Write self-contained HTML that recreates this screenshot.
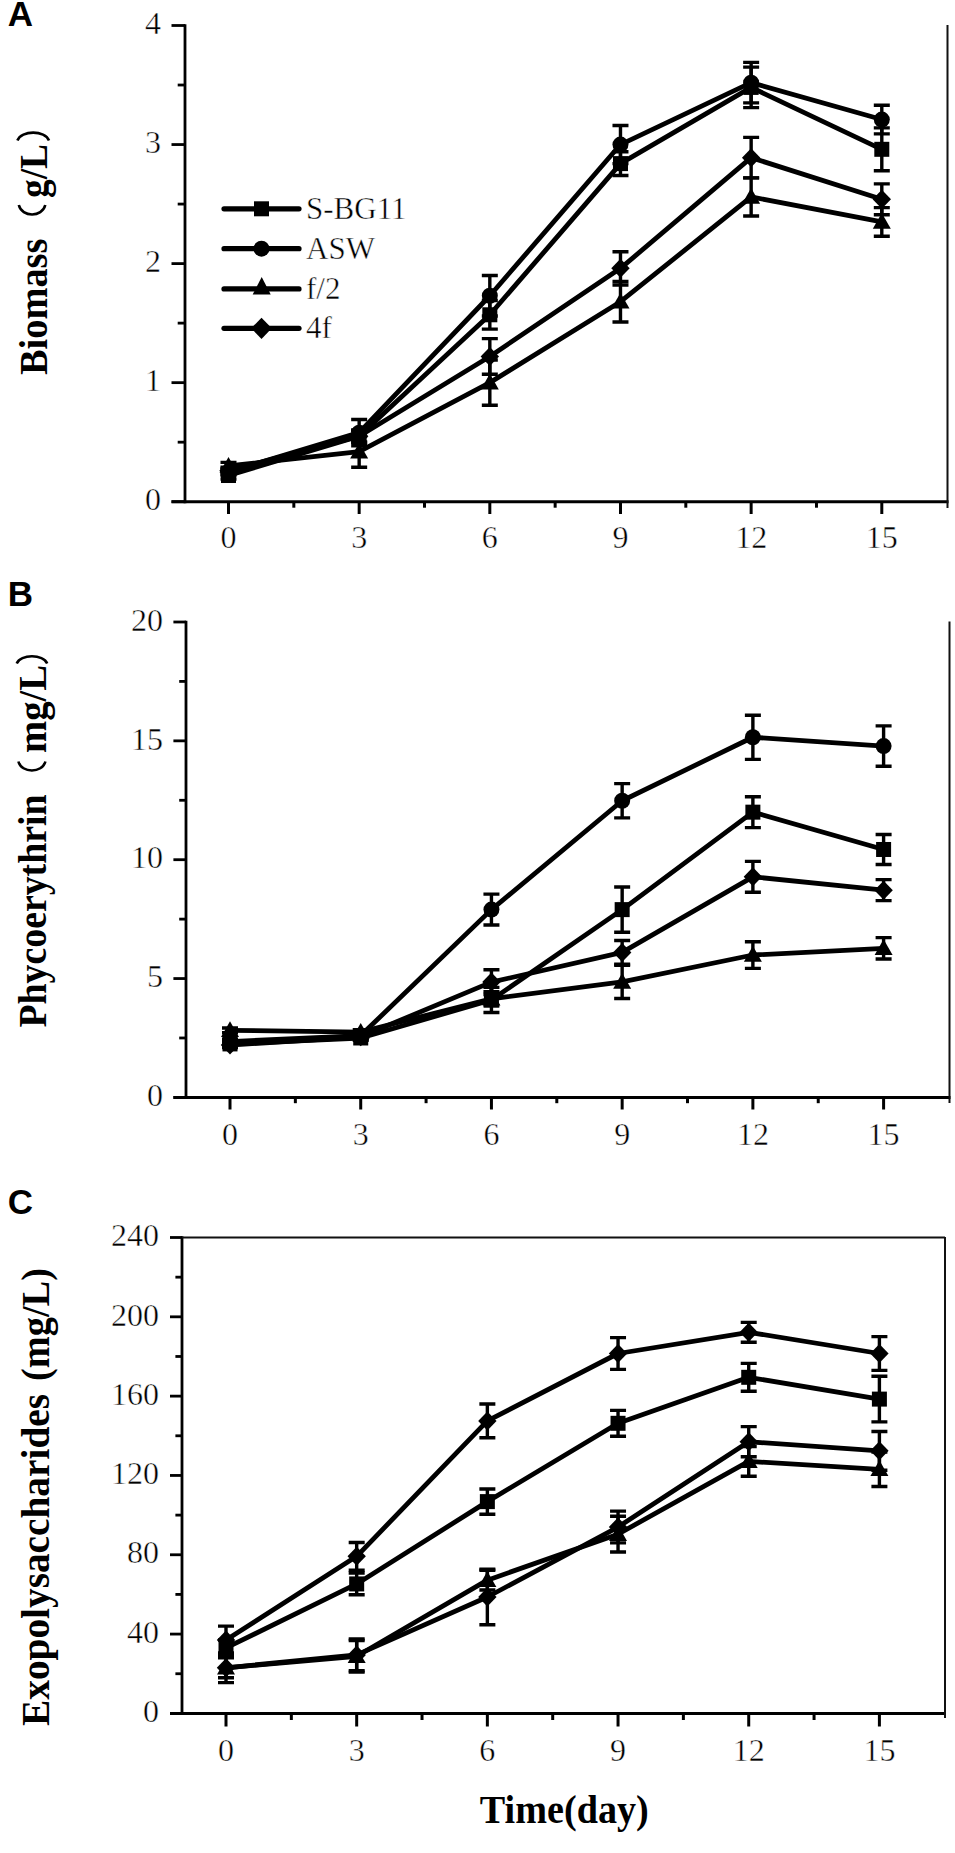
<!DOCTYPE html>
<html><head><meta charset="utf-8"><style>
html,body{margin:0;padding:0;background:#fff;}
svg{display:block;}
</style></head><body>
<svg width="955" height="1853" viewBox="0 0 955 1853">
<rect width="955" height="1853" fill="#fff"/>
<line x1="185" y1="24.3" x2="185" y2="503.2" stroke="#000" stroke-width="2.8"/>
<line x1="171.5" y1="501.7" x2="948.5" y2="501.7" stroke="#000" stroke-width="3"/>
<line x1="947.5" y1="25.0" x2="947.5" y2="508" stroke="#111" stroke-width="2"/>
<line x1="171.5" y1="501.70" x2="185" y2="501.70" stroke="#000" stroke-width="2.8"/>
<text x="161" y="510.40" text-anchor="end" style="font-family:'Liberation Serif',serif;font-size:32px;stroke:#fff;stroke-width:0.45px">0</text>
<line x1="177.7" y1="442.18" x2="185" y2="442.18" stroke="#000" stroke-width="2.8"/>
<line x1="171.5" y1="382.65" x2="185" y2="382.65" stroke="#000" stroke-width="2.8"/>
<text x="161" y="391.35" text-anchor="end" style="font-family:'Liberation Serif',serif;font-size:32px;stroke:#fff;stroke-width:0.45px">1</text>
<line x1="177.7" y1="323.12" x2="185" y2="323.12" stroke="#000" stroke-width="2.8"/>
<line x1="171.5" y1="263.60" x2="185" y2="263.60" stroke="#000" stroke-width="2.8"/>
<text x="161" y="272.30" text-anchor="end" style="font-family:'Liberation Serif',serif;font-size:32px;stroke:#fff;stroke-width:0.45px">2</text>
<line x1="177.7" y1="204.07" x2="185" y2="204.07" stroke="#000" stroke-width="2.8"/>
<line x1="171.5" y1="144.55" x2="185" y2="144.55" stroke="#000" stroke-width="2.8"/>
<text x="161" y="153.25" text-anchor="end" style="font-family:'Liberation Serif',serif;font-size:32px;stroke:#fff;stroke-width:0.45px">3</text>
<line x1="177.7" y1="85.02" x2="185" y2="85.02" stroke="#000" stroke-width="2.8"/>
<line x1="171.5" y1="25.50" x2="185" y2="25.50" stroke="#000" stroke-width="2.8"/>
<text x="161" y="34.20" text-anchor="end" style="font-family:'Liberation Serif',serif;font-size:32px;stroke:#fff;stroke-width:0.45px">4</text>
<line x1="228.50" y1="501.7" x2="228.50" y2="514" stroke="#000" stroke-width="3"/>
<text x="228.50" y="548" text-anchor="middle" style="font-family:'Liberation Serif',serif;font-size:32px;stroke:#fff;stroke-width:0.45px">0</text>
<line x1="293.83" y1="501.7" x2="293.83" y2="507.7" stroke="#000" stroke-width="3"/>
<line x1="359.16" y1="501.7" x2="359.16" y2="514" stroke="#000" stroke-width="3"/>
<text x="359.16" y="548" text-anchor="middle" style="font-family:'Liberation Serif',serif;font-size:32px;stroke:#fff;stroke-width:0.45px">3</text>
<line x1="424.49" y1="501.7" x2="424.49" y2="507.7" stroke="#000" stroke-width="3"/>
<line x1="489.82" y1="501.7" x2="489.82" y2="514" stroke="#000" stroke-width="3"/>
<text x="489.82" y="548" text-anchor="middle" style="font-family:'Liberation Serif',serif;font-size:32px;stroke:#fff;stroke-width:0.45px">6</text>
<line x1="555.15" y1="501.7" x2="555.15" y2="507.7" stroke="#000" stroke-width="3"/>
<line x1="620.48" y1="501.7" x2="620.48" y2="514" stroke="#000" stroke-width="3"/>
<text x="620.48" y="548" text-anchor="middle" style="font-family:'Liberation Serif',serif;font-size:32px;stroke:#fff;stroke-width:0.45px">9</text>
<line x1="685.81" y1="501.7" x2="685.81" y2="507.7" stroke="#000" stroke-width="3"/>
<line x1="751.14" y1="501.7" x2="751.14" y2="514" stroke="#000" stroke-width="3"/>
<text x="751.14" y="548" text-anchor="middle" style="font-family:'Liberation Serif',serif;font-size:32px;stroke:#fff;stroke-width:0.45px">12</text>
<line x1="816.47" y1="501.7" x2="816.47" y2="507.7" stroke="#000" stroke-width="3"/>
<line x1="881.80" y1="501.7" x2="881.80" y2="514" stroke="#000" stroke-width="3"/>
<text x="881.80" y="548" text-anchor="middle" style="font-family:'Liberation Serif',serif;font-size:32px;stroke:#fff;stroke-width:0.45px">15</text>
<path d="M228.50,475.51 L359.16,436.22 L489.82,314.79 L620.48,163.60 L751.14,87.41 L881.80,149.31" fill="none" stroke="#000" stroke-width="4.8" stroke-linejoin="round" stroke-linecap="round"/>
<path d="M228.50,471.94 L359.16,432.65 L489.82,295.74 L620.48,144.55 L751.14,82.64 L881.80,119.55" fill="none" stroke="#000" stroke-width="4.8" stroke-linejoin="round" stroke-linecap="round"/>
<path d="M228.50,465.99 L359.16,451.70 L489.82,382.65 L620.48,301.70 L751.14,196.93 L881.80,221.93" fill="none" stroke="#000" stroke-width="4.8" stroke-linejoin="round" stroke-linecap="round"/>
<path d="M228.50,470.75 L359.16,436.22 L489.82,356.46 L620.48,268.36 L751.14,157.65 L881.80,199.31" fill="none" stroke="#000" stroke-width="4.8" stroke-linejoin="round" stroke-linecap="round"/>
<path d="M228.50,471.94V479.08M220.50,471.94H236.50M220.50,479.08H236.50" stroke="#000" stroke-width="3.4" fill="none"/>
<rect x="221.00" y="468.01" width="15.00" height="15.00" fill="#000"/>
<path d="M359.16,430.27V442.18M351.16,430.27H367.16M351.16,442.18H367.16" stroke="#000" stroke-width="3.4" fill="none"/>
<rect x="351.66" y="428.72" width="15.00" height="15.00" fill="#000"/>
<path d="M489.82,300.51V329.08M481.82,300.51H497.82M481.82,329.08H497.82" stroke="#000" stroke-width="3.4" fill="none"/>
<rect x="482.32" y="307.29" width="15.00" height="15.00" fill="#000"/>
<path d="M620.48,151.69V175.50M612.48,151.69H628.48M612.48,175.50H628.48" stroke="#000" stroke-width="3.4" fill="none"/>
<rect x="612.98" y="156.10" width="15.00" height="15.00" fill="#000"/>
<path d="M751.14,67.17V107.64M743.14,67.17H759.14M743.14,107.64H759.14" stroke="#000" stroke-width="3.4" fill="none"/>
<rect x="743.64" y="79.91" width="15.00" height="15.00" fill="#000"/>
<path d="M881.80,127.88V170.74M873.80,127.88H889.80M873.80,170.74H889.80" stroke="#000" stroke-width="3.4" fill="none"/>
<rect x="874.30" y="141.81" width="15.00" height="15.00" fill="#000"/>
<path d="M228.50,468.37V475.51M220.50,468.37H236.50M220.50,475.51H236.50" stroke="#000" stroke-width="3.4" fill="none"/>
<circle cx="228.50" cy="471.94" r="8.00" fill="#000"/>
<path d="M359.16,419.56V445.75M351.16,419.56H367.16M351.16,445.75H367.16" stroke="#000" stroke-width="3.4" fill="none"/>
<circle cx="359.16" cy="432.65" r="8.00" fill="#000"/>
<path d="M489.82,275.50V315.98M481.82,275.50H497.82M481.82,315.98H497.82" stroke="#000" stroke-width="3.4" fill="none"/>
<circle cx="489.82" cy="295.74" r="8.00" fill="#000"/>
<path d="M620.48,125.50V163.60M612.48,125.50H628.48M612.48,163.60H628.48" stroke="#000" stroke-width="3.4" fill="none"/>
<circle cx="620.48" cy="144.55" r="8.00" fill="#000"/>
<path d="M751.14,62.41V102.88M743.14,62.41H759.14M743.14,102.88H759.14" stroke="#000" stroke-width="3.4" fill="none"/>
<circle cx="751.14" cy="82.64" r="8.00" fill="#000"/>
<path d="M881.80,105.26V133.84M873.80,105.26H889.80M873.80,133.84H889.80" stroke="#000" stroke-width="3.4" fill="none"/>
<circle cx="881.80" cy="119.55" r="8.00" fill="#000"/>
<path d="M228.50,462.41V469.56M220.50,462.41H236.50M220.50,469.56H236.50" stroke="#000" stroke-width="3.4" fill="none"/>
<path d="M228.50,456.99L237.50,472.74L219.50,472.74Z" fill="#000"/>
<path d="M359.16,436.22V467.18M351.16,436.22H367.16M351.16,467.18H367.16" stroke="#000" stroke-width="3.4" fill="none"/>
<path d="M359.16,442.70L368.16,458.45L350.16,458.45Z" fill="#000"/>
<path d="M489.82,360.03V405.27M481.82,360.03H497.82M481.82,405.27H497.82" stroke="#000" stroke-width="3.4" fill="none"/>
<path d="M489.82,373.65L498.82,389.40L480.82,389.40Z" fill="#000"/>
<path d="M620.48,281.46V321.93M612.48,281.46H628.48M612.48,321.93H628.48" stroke="#000" stroke-width="3.4" fill="none"/>
<path d="M620.48,292.70L629.48,308.45L611.48,308.45Z" fill="#000"/>
<path d="M751.14,177.88V215.98M743.14,177.88H759.14M743.14,215.98H759.14" stroke="#000" stroke-width="3.4" fill="none"/>
<path d="M751.14,187.93L760.14,203.68L742.14,203.68Z" fill="#000"/>
<path d="M881.80,207.65V236.22M873.80,207.65H889.80M873.80,236.22H889.80" stroke="#000" stroke-width="3.4" fill="none"/>
<path d="M881.80,212.93L890.80,228.68L872.80,228.68Z" fill="#000"/>
<path d="M228.50,467.18V474.32M220.50,467.18H236.50M220.50,474.32H236.50" stroke="#000" stroke-width="3.4" fill="none"/>
<path d="M228.50,461.25L237.70,470.75L228.50,480.25L219.30,470.75Z" fill="#000"/>
<path d="M359.16,430.27V442.18M351.16,430.27H367.16M351.16,442.18H367.16" stroke="#000" stroke-width="3.4" fill="none"/>
<path d="M359.16,426.72L368.36,436.22L359.16,445.72L349.96,436.22Z" fill="#000"/>
<path d="M489.82,338.60V374.32M481.82,338.60H497.82M481.82,374.32H497.82" stroke="#000" stroke-width="3.4" fill="none"/>
<path d="M489.82,346.96L499.02,356.46L489.82,365.96L480.62,356.46Z" fill="#000"/>
<path d="M620.48,251.69V285.03M612.48,251.69H628.48M612.48,285.03H628.48" stroke="#000" stroke-width="3.4" fill="none"/>
<path d="M620.48,258.86L629.68,268.36L620.48,277.86L611.28,268.36Z" fill="#000"/>
<path d="M751.14,137.41V177.88M743.14,137.41H759.14M743.14,177.88H759.14" stroke="#000" stroke-width="3.4" fill="none"/>
<path d="M751.14,148.15L760.34,157.65L751.14,167.15L741.94,157.65Z" fill="#000"/>
<path d="M881.80,183.84V214.79M873.80,183.84H889.80M873.80,214.79H889.80" stroke="#000" stroke-width="3.4" fill="none"/>
<path d="M881.80,189.81L891.00,199.31L881.80,208.81L872.60,199.31Z" fill="#000"/>
<line x1="186" y1="620.8" x2="186" y2="1098.9" stroke="#000" stroke-width="2.8"/>
<line x1="173.4" y1="1097.4" x2="950.5" y2="1097.4" stroke="#000" stroke-width="3"/>
<line x1="949.5" y1="621.5" x2="949.5" y2="1103" stroke="#111" stroke-width="2"/>
<line x1="173.4" y1="1097.40" x2="186" y2="1097.40" stroke="#000" stroke-width="2.8"/>
<text x="163" y="1106.10" text-anchor="end" style="font-family:'Liberation Serif',serif;font-size:32px;stroke:#fff;stroke-width:0.45px">0</text>
<line x1="179.2" y1="1037.98" x2="186" y2="1037.98" stroke="#000" stroke-width="2.8"/>
<line x1="173.4" y1="978.55" x2="186" y2="978.55" stroke="#000" stroke-width="2.8"/>
<text x="163" y="987.25" text-anchor="end" style="font-family:'Liberation Serif',serif;font-size:32px;stroke:#fff;stroke-width:0.45px">5</text>
<line x1="179.2" y1="919.12" x2="186" y2="919.12" stroke="#000" stroke-width="2.8"/>
<line x1="173.4" y1="859.70" x2="186" y2="859.70" stroke="#000" stroke-width="2.8"/>
<text x="163" y="868.40" text-anchor="end" style="font-family:'Liberation Serif',serif;font-size:32px;stroke:#fff;stroke-width:0.45px">10</text>
<line x1="179.2" y1="800.28" x2="186" y2="800.28" stroke="#000" stroke-width="2.8"/>
<line x1="173.4" y1="740.85" x2="186" y2="740.85" stroke="#000" stroke-width="2.8"/>
<text x="163" y="749.55" text-anchor="end" style="font-family:'Liberation Serif',serif;font-size:32px;stroke:#fff;stroke-width:0.45px">15</text>
<line x1="179.2" y1="681.42" x2="186" y2="681.42" stroke="#000" stroke-width="2.8"/>
<line x1="173.4" y1="622.00" x2="186" y2="622.00" stroke="#000" stroke-width="2.8"/>
<text x="163" y="630.70" text-anchor="end" style="font-family:'Liberation Serif',serif;font-size:32px;stroke:#fff;stroke-width:0.45px">20</text>
<line x1="230.00" y1="1097.4" x2="230.00" y2="1109.5" stroke="#000" stroke-width="3"/>
<text x="230.00" y="1144.5" text-anchor="middle" style="font-family:'Liberation Serif',serif;font-size:32px;stroke:#fff;stroke-width:0.45px">0</text>
<line x1="295.36" y1="1097.4" x2="295.36" y2="1103.2" stroke="#000" stroke-width="3"/>
<line x1="360.72" y1="1097.4" x2="360.72" y2="1109.5" stroke="#000" stroke-width="3"/>
<text x="360.72" y="1144.5" text-anchor="middle" style="font-family:'Liberation Serif',serif;font-size:32px;stroke:#fff;stroke-width:0.45px">3</text>
<line x1="426.08" y1="1097.4" x2="426.08" y2="1103.2" stroke="#000" stroke-width="3"/>
<line x1="491.44" y1="1097.4" x2="491.44" y2="1109.5" stroke="#000" stroke-width="3"/>
<text x="491.44" y="1144.5" text-anchor="middle" style="font-family:'Liberation Serif',serif;font-size:32px;stroke:#fff;stroke-width:0.45px">6</text>
<line x1="556.80" y1="1097.4" x2="556.80" y2="1103.2" stroke="#000" stroke-width="3"/>
<line x1="622.16" y1="1097.4" x2="622.16" y2="1109.5" stroke="#000" stroke-width="3"/>
<text x="622.16" y="1144.5" text-anchor="middle" style="font-family:'Liberation Serif',serif;font-size:32px;stroke:#fff;stroke-width:0.45px">9</text>
<line x1="687.52" y1="1097.4" x2="687.52" y2="1103.2" stroke="#000" stroke-width="3"/>
<line x1="752.88" y1="1097.4" x2="752.88" y2="1109.5" stroke="#000" stroke-width="3"/>
<text x="752.88" y="1144.5" text-anchor="middle" style="font-family:'Liberation Serif',serif;font-size:32px;stroke:#fff;stroke-width:0.45px">12</text>
<line x1="818.24" y1="1097.4" x2="818.24" y2="1103.2" stroke="#000" stroke-width="3"/>
<line x1="883.60" y1="1097.4" x2="883.60" y2="1109.5" stroke="#000" stroke-width="3"/>
<text x="883.60" y="1144.5" text-anchor="middle" style="font-family:'Liberation Serif',serif;font-size:32px;stroke:#fff;stroke-width:0.45px">15</text>
<path d="M230.00,1043.92 L360.72,1037.98 L491.44,999.94 L622.16,909.62 L752.88,812.16 L883.60,849.48" fill="none" stroke="#000" stroke-width="4.8" stroke-linejoin="round" stroke-linecap="round"/>
<path d="M230.00,1041.54 L360.72,1035.60 L491.44,909.62 L622.16,800.75 L752.88,737.28 L883.60,746.08" fill="none" stroke="#000" stroke-width="4.8" stroke-linejoin="round" stroke-linecap="round"/>
<path d="M230.00,1030.37 L360.72,1032.03 L491.44,998.75 L622.16,981.88 L752.88,955.02 L883.60,948.36" fill="none" stroke="#000" stroke-width="4.8" stroke-linejoin="round" stroke-linecap="round"/>
<path d="M230.00,1045.11 L360.72,1036.79 L491.44,982.12 L622.16,952.40 L752.88,876.81 L883.60,890.13" fill="none" stroke="#000" stroke-width="4.8" stroke-linejoin="round" stroke-linecap="round"/>
<path d="M230.00,1041.54V1046.29M222.00,1041.54H238.00M222.00,1046.29H238.00" stroke="#000" stroke-width="3.4" fill="none"/>
<rect x="222.50" y="1036.42" width="15.00" height="15.00" fill="#000"/>
<path d="M360.72,1035.60V1040.35M352.72,1035.60H368.72M352.72,1040.35H368.72" stroke="#000" stroke-width="3.4" fill="none"/>
<rect x="353.22" y="1030.48" width="15.00" height="15.00" fill="#000"/>
<path d="M491.44,987.34V1012.54M483.44,987.34H499.44M483.44,1012.54H499.44" stroke="#000" stroke-width="3.4" fill="none"/>
<rect x="483.94" y="992.44" width="15.00" height="15.00" fill="#000"/>
<path d="M622.16,887.04V932.20M614.16,887.04H630.16M614.16,932.20H630.16" stroke="#000" stroke-width="3.4" fill="none"/>
<rect x="614.66" y="902.12" width="15.00" height="15.00" fill="#000"/>
<path d="M752.88,796.71V827.61M744.88,796.71H760.88M744.88,827.61H760.88" stroke="#000" stroke-width="3.4" fill="none"/>
<rect x="745.38" y="804.66" width="15.00" height="15.00" fill="#000"/>
<path d="M883.60,834.50V864.45M875.60,834.50H891.60M875.60,864.45H891.60" stroke="#000" stroke-width="3.4" fill="none"/>
<rect x="876.10" y="841.98" width="15.00" height="15.00" fill="#000"/>
<path d="M230.00,1039.16V1043.92M222.00,1039.16H238.00M222.00,1043.92H238.00" stroke="#000" stroke-width="3.4" fill="none"/>
<circle cx="230.00" cy="1041.54" r="8.00" fill="#000"/>
<path d="M360.72,1033.22V1037.98M352.72,1033.22H368.72M352.72,1037.98H368.72" stroke="#000" stroke-width="3.4" fill="none"/>
<circle cx="360.72" cy="1035.60" r="8.00" fill="#000"/>
<path d="M491.44,894.17V925.07M483.44,894.17H499.44M483.44,925.07H499.44" stroke="#000" stroke-width="3.4" fill="none"/>
<circle cx="491.44" cy="909.62" r="8.00" fill="#000"/>
<path d="M622.16,783.64V817.86M614.16,783.64H630.16M614.16,817.86H630.16" stroke="#000" stroke-width="3.4" fill="none"/>
<circle cx="622.16" cy="800.75" r="8.00" fill="#000"/>
<path d="M752.88,715.18V759.39M744.88,715.18H760.88M744.88,759.39H760.88" stroke="#000" stroke-width="3.4" fill="none"/>
<circle cx="752.88" cy="737.28" r="8.00" fill="#000"/>
<path d="M883.60,725.87V766.28M875.60,725.87H891.60M875.60,766.28H891.60" stroke="#000" stroke-width="3.4" fill="none"/>
<circle cx="883.60" cy="746.08" r="8.00" fill="#000"/>
<path d="M230.00,1027.99V1032.75M222.00,1027.99H238.00M222.00,1032.75H238.00" stroke="#000" stroke-width="3.4" fill="none"/>
<path d="M230.00,1021.37L239.00,1037.12L221.00,1037.12Z" fill="#000"/>
<path d="M360.72,1029.66V1034.41M352.72,1029.66H368.72M352.72,1034.41H368.72" stroke="#000" stroke-width="3.4" fill="none"/>
<path d="M360.72,1023.03L369.72,1038.78L351.72,1038.78Z" fill="#000"/>
<path d="M491.44,991.62V1005.89M483.44,991.62H499.44M483.44,1005.89H499.44" stroke="#000" stroke-width="3.4" fill="none"/>
<path d="M491.44,989.75L500.44,1005.50L482.44,1005.50Z" fill="#000"/>
<path d="M622.16,965.24V998.52M614.16,965.24H630.16M614.16,998.52H630.16" stroke="#000" stroke-width="3.4" fill="none"/>
<path d="M622.16,972.88L631.16,988.63L613.16,988.63Z" fill="#000"/>
<path d="M752.88,941.71V968.33M744.88,941.71H760.88M744.88,968.33H760.88" stroke="#000" stroke-width="3.4" fill="none"/>
<path d="M752.88,946.02L761.88,961.77L743.88,961.77Z" fill="#000"/>
<path d="M883.60,937.67V959.06M875.60,937.67H891.60M875.60,959.06H891.60" stroke="#000" stroke-width="3.4" fill="none"/>
<path d="M883.60,939.36L892.60,955.11L874.60,955.11Z" fill="#000"/>
<path d="M230.00,1042.73V1047.48M222.00,1042.73H238.00M222.00,1047.48H238.00" stroke="#000" stroke-width="3.4" fill="none"/>
<path d="M230.00,1035.61L239.20,1045.11L230.00,1054.61L220.80,1045.11Z" fill="#000"/>
<path d="M360.72,1034.41V1039.16M352.72,1034.41H368.72M352.72,1039.16H368.72" stroke="#000" stroke-width="3.4" fill="none"/>
<path d="M360.72,1027.29L369.92,1036.79L360.72,1046.29L351.52,1036.79Z" fill="#000"/>
<path d="M491.44,969.76V994.48M483.44,969.76H499.44M483.44,994.48H499.44" stroke="#000" stroke-width="3.4" fill="none"/>
<path d="M491.44,972.62L500.64,982.12L491.44,991.62L482.24,982.12Z" fill="#000"/>
<path d="M622.16,940.52V964.29M614.16,940.52H630.16M614.16,964.29H630.16" stroke="#000" stroke-width="3.4" fill="none"/>
<path d="M622.16,942.90L631.36,952.40L622.16,961.90L612.96,952.40Z" fill="#000"/>
<path d="M752.88,861.36V892.26M744.88,861.36H760.88M744.88,892.26H760.88" stroke="#000" stroke-width="3.4" fill="none"/>
<path d="M752.88,867.31L762.08,876.81L752.88,886.31L743.68,876.81Z" fill="#000"/>
<path d="M883.60,879.67V900.58M875.60,879.67H891.60M875.60,900.58H891.60" stroke="#000" stroke-width="3.4" fill="none"/>
<path d="M883.60,880.63L892.80,890.13L883.60,899.63L874.40,890.13Z" fill="#000"/>
<line x1="182" y1="1236.3" x2="182" y2="1714.9" stroke="#000" stroke-width="2.8"/>
<line x1="170" y1="1713.4" x2="946" y2="1713.4" stroke="#000" stroke-width="3"/>
<line x1="945" y1="1237.0" x2="945" y2="1718" stroke="#111" stroke-width="2"/>
<line x1="182" y1="1237.5" x2="945" y2="1237.5" stroke="#111" stroke-width="2.2"/>
<line x1="170" y1="1713.40" x2="182" y2="1713.40" stroke="#000" stroke-width="2.8"/>
<text x="159" y="1722.10" text-anchor="end" style="font-family:'Liberation Serif',serif;font-size:32px;stroke:#fff;stroke-width:0.45px">0</text>
<line x1="175.4" y1="1673.74" x2="182" y2="1673.74" stroke="#000" stroke-width="2.8"/>
<line x1="170" y1="1634.08" x2="182" y2="1634.08" stroke="#000" stroke-width="2.8"/>
<text x="159" y="1642.78" text-anchor="end" style="font-family:'Liberation Serif',serif;font-size:32px;stroke:#fff;stroke-width:0.45px">40</text>
<line x1="175.4" y1="1594.42" x2="182" y2="1594.42" stroke="#000" stroke-width="2.8"/>
<line x1="170" y1="1554.77" x2="182" y2="1554.77" stroke="#000" stroke-width="2.8"/>
<text x="159" y="1563.47" text-anchor="end" style="font-family:'Liberation Serif',serif;font-size:32px;stroke:#fff;stroke-width:0.45px">80</text>
<line x1="175.4" y1="1515.11" x2="182" y2="1515.11" stroke="#000" stroke-width="2.8"/>
<line x1="170" y1="1475.45" x2="182" y2="1475.45" stroke="#000" stroke-width="2.8"/>
<text x="159" y="1484.15" text-anchor="end" style="font-family:'Liberation Serif',serif;font-size:32px;stroke:#fff;stroke-width:0.45px">120</text>
<line x1="175.4" y1="1435.79" x2="182" y2="1435.79" stroke="#000" stroke-width="2.8"/>
<line x1="170" y1="1396.13" x2="182" y2="1396.13" stroke="#000" stroke-width="2.8"/>
<text x="159" y="1404.83" text-anchor="end" style="font-family:'Liberation Serif',serif;font-size:32px;stroke:#fff;stroke-width:0.45px">160</text>
<line x1="175.4" y1="1356.47" x2="182" y2="1356.47" stroke="#000" stroke-width="2.8"/>
<line x1="170" y1="1316.82" x2="182" y2="1316.82" stroke="#000" stroke-width="2.8"/>
<text x="159" y="1325.52" text-anchor="end" style="font-family:'Liberation Serif',serif;font-size:32px;stroke:#fff;stroke-width:0.45px">200</text>
<line x1="175.4" y1="1277.16" x2="182" y2="1277.16" stroke="#000" stroke-width="2.8"/>
<line x1="170" y1="1237.50" x2="182" y2="1237.50" stroke="#000" stroke-width="2.8"/>
<text x="159" y="1246.20" text-anchor="end" style="font-family:'Liberation Serif',serif;font-size:32px;stroke:#fff;stroke-width:0.45px">240</text>
<line x1="226.00" y1="1713.4" x2="226.00" y2="1726.5" stroke="#000" stroke-width="3"/>
<text x="226.00" y="1760.5" text-anchor="middle" style="font-family:'Liberation Serif',serif;font-size:32px;stroke:#fff;stroke-width:0.45px">0</text>
<line x1="291.34" y1="1713.4" x2="291.34" y2="1720" stroke="#000" stroke-width="3"/>
<line x1="356.68" y1="1713.4" x2="356.68" y2="1726.5" stroke="#000" stroke-width="3"/>
<text x="356.68" y="1760.5" text-anchor="middle" style="font-family:'Liberation Serif',serif;font-size:32px;stroke:#fff;stroke-width:0.45px">3</text>
<line x1="422.02" y1="1713.4" x2="422.02" y2="1720" stroke="#000" stroke-width="3"/>
<line x1="487.36" y1="1713.4" x2="487.36" y2="1726.5" stroke="#000" stroke-width="3"/>
<text x="487.36" y="1760.5" text-anchor="middle" style="font-family:'Liberation Serif',serif;font-size:32px;stroke:#fff;stroke-width:0.45px">6</text>
<line x1="552.70" y1="1713.4" x2="552.70" y2="1720" stroke="#000" stroke-width="3"/>
<line x1="618.04" y1="1713.4" x2="618.04" y2="1726.5" stroke="#000" stroke-width="3"/>
<text x="618.04" y="1760.5" text-anchor="middle" style="font-family:'Liberation Serif',serif;font-size:32px;stroke:#fff;stroke-width:0.45px">9</text>
<line x1="683.38" y1="1713.4" x2="683.38" y2="1720" stroke="#000" stroke-width="3"/>
<line x1="748.72" y1="1713.4" x2="748.72" y2="1726.5" stroke="#000" stroke-width="3"/>
<text x="748.72" y="1760.5" text-anchor="middle" style="font-family:'Liberation Serif',serif;font-size:32px;stroke:#fff;stroke-width:0.45px">12</text>
<line x1="814.06" y1="1713.4" x2="814.06" y2="1720" stroke="#000" stroke-width="3"/>
<line x1="879.40" y1="1713.4" x2="879.40" y2="1726.5" stroke="#000" stroke-width="3"/>
<text x="879.40" y="1760.5" text-anchor="middle" style="font-family:'Liberation Serif',serif;font-size:32px;stroke:#fff;stroke-width:0.45px">15</text>
<path d="M226.00,1647.96 L356.68,1583.92 L487.36,1501.62 L618.04,1423.30 L748.72,1377.30 L879.40,1399.11" fill="none" stroke="#000" stroke-width="4.8" stroke-linejoin="round" stroke-linecap="round"/>
<path d="M226.00,1667.79 L356.68,1654.90 L487.36,1597.00 L618.04,1527.01 L748.72,1441.74 L879.40,1450.86" fill="none" stroke="#000" stroke-width="4.8" stroke-linejoin="round" stroke-linecap="round"/>
<path d="M226.00,1667.79 L356.68,1656.29 L487.36,1580.15 L618.04,1534.14 L748.72,1461.37 L879.40,1469.30" fill="none" stroke="#000" stroke-width="4.8" stroke-linejoin="round" stroke-linecap="round"/>
<path d="M226.00,1640.03 L356.68,1556.35 L487.36,1420.92 L618.04,1353.50 L748.72,1332.28 L879.40,1353.50" fill="none" stroke="#000" stroke-width="4.8" stroke-linejoin="round" stroke-linecap="round"/>
<path d="M226.00,1640.03V1655.90M218.00,1640.03H234.00M218.00,1655.90H234.00" stroke="#000" stroke-width="3.4" fill="none"/>
<rect x="218.50" y="1640.46" width="15.00" height="15.00" fill="#000"/>
<path d="M356.68,1573.01V1594.82M348.68,1573.01H364.68M348.68,1594.82H364.68" stroke="#000" stroke-width="3.4" fill="none"/>
<rect x="349.18" y="1576.42" width="15.00" height="15.00" fill="#000"/>
<path d="M487.36,1488.93V1514.32M479.36,1488.93H495.36M479.36,1514.32H495.36" stroke="#000" stroke-width="3.4" fill="none"/>
<rect x="479.86" y="1494.12" width="15.00" height="15.00" fill="#000"/>
<path d="M618.04,1410.41V1436.19M610.04,1410.41H626.04M610.04,1436.19H626.04" stroke="#000" stroke-width="3.4" fill="none"/>
<rect x="610.54" y="1415.80" width="15.00" height="15.00" fill="#000"/>
<path d="M748.72,1363.42V1391.18M740.72,1363.42H756.72M740.72,1391.18H756.72" stroke="#000" stroke-width="3.4" fill="none"/>
<rect x="741.22" y="1369.80" width="15.00" height="15.00" fill="#000"/>
<path d="M879.40,1376.30V1421.91M871.40,1376.30H887.40M871.40,1421.91H887.40" stroke="#000" stroke-width="3.4" fill="none"/>
<rect x="871.90" y="1391.61" width="15.00" height="15.00" fill="#000"/>
<path d="M226.00,1652.92V1682.66M218.00,1652.92H234.00M218.00,1682.66H234.00" stroke="#000" stroke-width="3.4" fill="none"/>
<path d="M226.00,1658.29L235.20,1667.79L226.00,1677.29L216.80,1667.79Z" fill="#000"/>
<path d="M356.68,1639.04V1670.77M348.68,1639.04H364.68M348.68,1670.77H364.68" stroke="#000" stroke-width="3.4" fill="none"/>
<path d="M356.68,1645.40L365.88,1654.90L356.68,1664.40L347.48,1654.90Z" fill="#000"/>
<path d="M487.36,1569.24V1624.76M479.36,1569.24H495.36M479.36,1624.76H495.36" stroke="#000" stroke-width="3.4" fill="none"/>
<path d="M487.36,1587.50L496.56,1597.00L487.36,1606.50L478.16,1597.00Z" fill="#000"/>
<path d="M618.04,1511.14V1542.87M610.04,1511.14H626.04M610.04,1542.87H626.04" stroke="#000" stroke-width="3.4" fill="none"/>
<path d="M618.04,1517.51L627.24,1527.01L618.04,1536.51L608.84,1527.01Z" fill="#000"/>
<path d="M748.72,1426.67V1456.81M740.72,1426.67H756.72M740.72,1456.81H756.72" stroke="#000" stroke-width="3.4" fill="none"/>
<path d="M748.72,1432.24L757.92,1441.74L748.72,1451.24L739.52,1441.74Z" fill="#000"/>
<path d="M879.40,1431.43V1470.29M871.40,1431.43H887.40M871.40,1470.29H887.40" stroke="#000" stroke-width="3.4" fill="none"/>
<path d="M879.40,1441.36L888.60,1450.86L879.40,1460.36L870.20,1450.86Z" fill="#000"/>
<path d="M226.00,1657.88V1677.71M218.00,1657.88H234.00M218.00,1677.71H234.00" stroke="#000" stroke-width="3.4" fill="none"/>
<path d="M226.00,1658.79L235.00,1674.54L217.00,1674.54Z" fill="#000"/>
<path d="M356.68,1640.43V1672.16M348.68,1640.43H364.68M348.68,1672.16H364.68" stroke="#000" stroke-width="3.4" fill="none"/>
<path d="M356.68,1647.29L365.68,1663.04L347.68,1663.04Z" fill="#000"/>
<path d="M487.36,1570.23V1590.06M479.36,1570.23H495.36M479.36,1590.06H495.36" stroke="#000" stroke-width="3.4" fill="none"/>
<path d="M487.36,1571.15L496.36,1586.90L478.36,1586.90Z" fill="#000"/>
<path d="M618.04,1516.30V1551.99M610.04,1516.30H626.04M610.04,1551.99H626.04" stroke="#000" stroke-width="3.4" fill="none"/>
<path d="M618.04,1525.14L627.04,1540.89L609.04,1540.89Z" fill="#000"/>
<path d="M748.72,1446.50V1476.24M740.72,1446.50H756.72M740.72,1476.24H756.72" stroke="#000" stroke-width="3.4" fill="none"/>
<path d="M748.72,1452.37L757.72,1468.12L739.72,1468.12Z" fill="#000"/>
<path d="M879.40,1452.05V1486.55M871.40,1452.05H887.40M871.40,1486.55H887.40" stroke="#000" stroke-width="3.4" fill="none"/>
<path d="M879.40,1460.30L888.40,1476.05L870.40,1476.05Z" fill="#000"/>
<path d="M226.00,1626.15V1653.91M218.00,1626.15H234.00M218.00,1653.91H234.00" stroke="#000" stroke-width="3.4" fill="none"/>
<path d="M226.00,1630.53L235.20,1640.03L226.00,1649.53L216.80,1640.03Z" fill="#000"/>
<path d="M356.68,1542.47V1570.23M348.68,1542.47H364.68M348.68,1570.23H364.68" stroke="#000" stroke-width="3.4" fill="none"/>
<path d="M356.68,1546.85L365.88,1556.35L356.68,1565.85L347.48,1556.35Z" fill="#000"/>
<path d="M487.36,1404.07V1437.77M479.36,1404.07H495.36M479.36,1437.77H495.36" stroke="#000" stroke-width="3.4" fill="none"/>
<path d="M487.36,1411.42L496.56,1420.92L487.36,1430.42L478.16,1420.92Z" fill="#000"/>
<path d="M618.04,1337.64V1369.36M610.04,1337.64H626.04M610.04,1369.36H626.04" stroke="#000" stroke-width="3.4" fill="none"/>
<path d="M618.04,1344.00L627.24,1353.50L618.04,1363.00L608.84,1353.50Z" fill="#000"/>
<path d="M748.72,1322.37V1342.20M740.72,1322.37H756.72M740.72,1342.20H756.72" stroke="#000" stroke-width="3.4" fill="none"/>
<path d="M748.72,1322.78L757.92,1332.28L748.72,1341.78L739.52,1332.28Z" fill="#000"/>
<path d="M879.40,1336.65V1370.36M871.40,1336.65H887.40M871.40,1370.36H887.40" stroke="#000" stroke-width="3.4" fill="none"/>
<path d="M879.40,1344.00L888.60,1353.50L879.40,1363.00L870.20,1353.50Z" fill="#000"/>
<line x1="224" y1="208.8" x2="299" y2="208.8" stroke="#000" stroke-width="5.2" stroke-linecap="round"/>
<rect x="254.00" y="201.30" width="15.00" height="15.00" fill="#000"/>
<text x="306" y="218.8" style="font-family:'Liberation Serif',serif;font-size:31px;stroke:#fff;stroke-width:0.45px">S-BG11</text>
<line x1="224" y1="248.7" x2="299" y2="248.7" stroke="#000" stroke-width="5.2" stroke-linecap="round"/>
<circle cx="261.50" cy="248.70" r="8.00" fill="#000"/>
<text x="306" y="258.7" style="font-family:'Liberation Serif',serif;font-size:31px;stroke:#fff;stroke-width:0.45px">ASW</text>
<line x1="224" y1="288.9" x2="299" y2="288.9" stroke="#000" stroke-width="5.2" stroke-linecap="round"/>
<path d="M261.7,277.10L270.7,294.50L252.7,294.50Z" fill="#000"/>
<text x="306" y="298.9" style="font-family:'Liberation Serif',serif;font-size:31px;stroke:#fff;stroke-width:0.45px">f/2</text>
<line x1="224" y1="328.3" x2="299" y2="328.3" stroke="#000" stroke-width="5.2" stroke-linecap="round"/>
<path d="M261.50,317.66L271.80,328.30L261.50,338.94L251.20,328.30Z" fill="#000"/>
<text x="306" y="338.3" style="font-family:'Liberation Serif',serif;font-size:31px;stroke:#fff;stroke-width:0.45px">4f</text>
<text x="7.8" y="26.4" style="font-family:'Liberation Sans',sans-serif;font-weight:bold;font-size:35px">A</text>
<text x="7.8" y="606.4" style="font-family:'Liberation Sans',sans-serif;font-weight:bold;font-size:35px">B</text>
<text x="7.8" y="1214" style="font-family:'Liberation Sans',sans-serif;font-weight:bold;font-size:35px">C</text>
<text transform="translate(47.0,375.0) rotate(-90)" x="0" y="0" textLength="136.5" lengthAdjust="spacingAndGlyphs" style="font-family:'Liberation Serif',serif;font-weight:bold;font-size:39px">Biomass</text>
<path d="M18.8,205.0 C21.98,217.67 42.12,217.67 45.3,205.0" fill="none" stroke="#000" stroke-width="2.6"/>
<text transform="translate(46.7,198.0) rotate(-90)" x="0" y="0" textLength="54.0" lengthAdjust="spacingAndGlyphs" style="font-family:'Liberation Serif',serif;font-weight:bold;font-size:39px">g/L</text>
<path d="M17.4,140.5 C21.19,129.97 45.21,129.97 49.0,140.5" fill="none" stroke="#000" stroke-width="2.6"/>
<text transform="translate(46.4,1027.5) rotate(-90)" x="0" y="0" textLength="233.0" lengthAdjust="spacingAndGlyphs" style="font-family:'Liberation Serif',serif;font-weight:bold;font-size:39px">Phycoerythrin</text>
<path d="M18.4,761.5 C21.64,773.50 42.16,773.50 45.4,761.5" fill="none" stroke="#000" stroke-width="2.6"/>
<text transform="translate(46.4,753.0) rotate(-90)" x="0" y="0" textLength="88.0" lengthAdjust="spacingAndGlyphs" style="font-family:'Liberation Serif',serif;font-weight:bold;font-size:39px">mg/L</text>
<path d="M16.7,663.5 C20.36,653.90 43.54,653.90 47.2,663.5" fill="none" stroke="#000" stroke-width="2.6"/>
<text transform="translate(48.7,1726.0) rotate(-90)" x="0" y="0" textLength="332.0" lengthAdjust="spacingAndGlyphs" style="font-family:'Liberation Serif',serif;font-weight:bold;font-size:39px">Exopolysaccharides</text>
<text transform="translate(48.7,1381.0) rotate(-90)" x="0" y="0" textLength="113.0" lengthAdjust="spacingAndGlyphs" style="font-family:'Liberation Serif',serif;font-weight:bold;font-size:39px">(mg/L)</text>
<text x="479.8" y="1822.6" textLength="169" lengthAdjust="spacingAndGlyphs" style="font-family:'Liberation Serif',serif;font-weight:bold;font-size:39px;font-size:40.5px">Time(day)</text>
</svg></body></html>
